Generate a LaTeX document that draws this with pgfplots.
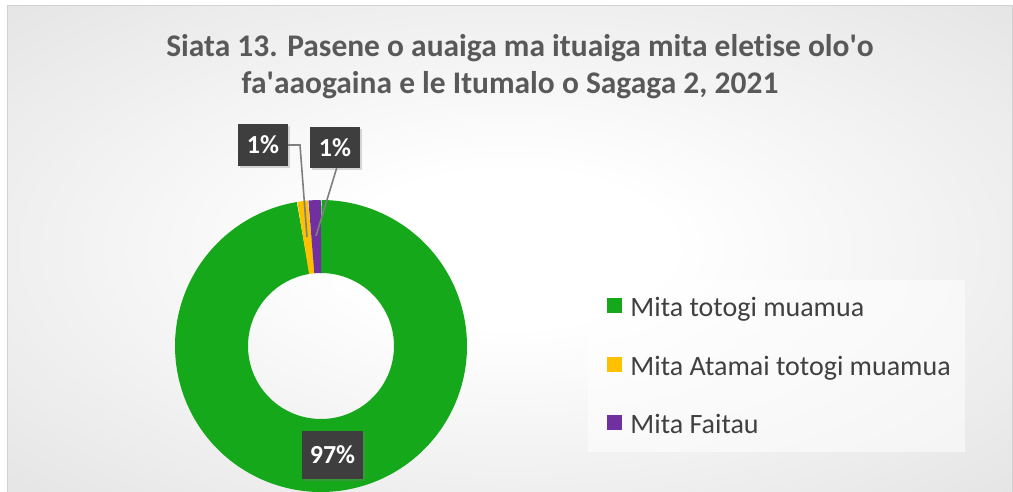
\documentclass[border=0pt]{standalone}
\usepackage{pgfplots}
\pgfplotsset{compat=1.18}
\usepackage{fontspec}
\setmainfont{Carlito}[Ligatures={TeX,NoCommon}]
\usetikzlibrary{shadows}

\definecolor{cGreen}{RGB}{20,168,26}
\definecolor{cYellow}{RGB}{255,192,0}
\definecolor{cPurple}{RGB}{112,48,160}
\definecolor{cTitle}{RGB}{89,89,89}
\definecolor{cText}{RGB}{64,64,64}
\definecolor{cLabel}{RGB}{62,62,62}
\definecolor{cLeader}{RGB}{127,127,127}
\definecolor{cBorder}{RGB}{210,210,210}

\pgfdeclareradialshading{chartbg}{\pgfpoint{0bp}{0bp}}{%
  color(0bp)=(white); color(8bp)=(white); color(70bp)=(white!77!black)}

% shares of the meters (percent)
\pgfmathsetmacro{\vA}{97.4}
\pgfmathsetmacro{\vB}{1.2}
\pgfmathsetmacro{\vC}{1.4}
% angles, clockwise from 12 o'clock
\pgfmathsetmacro{\aO}{90}
\pgfmathsetmacro{\aA}{\aO-3.6*\vA}
\pgfmathsetmacro{\aB}{\aA-3.6*\vB}
\pgfmathsetmacro{\aC}{\aB-3.6*\vC}

\tikzset{lbl/.style={fill=cLabel, text=white, inner sep=0pt,
  font=\fontsize{19.5}{22}\selectfont\bfseries,
  drop shadow={shadow xshift=1.5pt, shadow yshift=-1.5pt, opacity=0.3}}}

\begin{document}
\begin{tikzpicture}
\begin{axis}[
  x=0.75pt, y=0.75pt,
  xmin=0, xmax=1013, ymin=0, ymax=492,
  y dir=reverse,
  hide axis, clip=false,
  legend style={at={(axis cs:607,369)}, anchor=west,
    draw=none, fill=none, inner sep=0pt, row sep=24.9pt,
    font=\fontsize{21}{24}\selectfont, text=cText,
    nodes={inner sep=0pt, text height=14pt, text depth=5pt},
    /tikz/every odd column/.append style={column sep=6.5pt}},
  legend cell align=left,
]
% background and frame
\fill[white] (axis cs:0,0) rectangle (axis cs:1013,492);
\shade[shading=chartbg] (axis cs:7,6) rectangle (axis cs:1013,492);
\draw[cBorder, line width=0.75pt] (axis cs:7,6) -- (axis cs:1012,6) -- (axis cs:1012,492);
\draw[cBorder, line width=0.75pt] (axis cs:7,6) -- (axis cs:7,492);
% legend panel
\fill[white, fill opacity=0.55] (axis cs:588,280) rectangle (axis cs:965,452);

\addlegendimage{legend image code/.code={\fill[cGreen] (0pt,-1.5pt) rectangle (10.5pt,9pt);}}
\addlegendentry{Mita totogi muamua}
\addlegendimage{legend image code/.code={\fill[cYellow] (0pt,-1.5pt) rectangle (10.5pt,9pt);}}
\addlegendentry{Mita Atamai totogi muamua}
\addlegendimage{legend image code/.code={\fill[cPurple] (0pt,-1.5pt) rectangle (10.5pt,9pt);}}
\addlegendentry{Mita Faitau}

% doughnut: ring drawn as a thick arc, centre (321,346), radii 73..146
\addplot[draw=cGreen, line width=54.75pt, domain=\aA:\aO, samples=200, forget plot]
  ({321+109.5*cos(x)}, {346-109.5*sin(x)});
\addplot[draw=cYellow, line width=54.75pt, domain=\aB:\aA, samples=10, forget plot]
  ({321+109.5*cos(x)}, {346-109.5*sin(x)});
\addplot[draw=cPurple, line width=54.75pt, domain=\aC:\aB, samples=10, forget plot]
  ({321+109.5*cos(x)}, {346-109.5*sin(x)});

% leader lines
\draw[cLeader, line width=1.2pt] (axis cs:288,145) -- (axis cs:300,145) -- (axis cs:307,237);
\draw[cLeader, line width=1.2pt] (axis cs:336.7,168) -- (axis cs:316,236);

% data labels
\node[lbl, minimum width=37.5pt, minimum height=31.5pt] at (axis cs:263,145) {1\%};
\node[lbl, minimum width=37.5pt, minimum height=31pt] at (axis cs:335,147.5) {1\%};
\node[lbl, minimum width=46pt, minimum height=36.5pt] at (axis cs:332.5,455) {97\%};

% title
\node[text=cTitle, font=\fontsize{23.6}{28}\selectfont\bfseries, anchor=base]
  at (axis cs:520,57) {Siata 13. Pasene o auaiga ma ituaiga mita eletise olo\textquotesingle o};
\node[text=cTitle, font=\fontsize{23.6}{28}\selectfont\bfseries, anchor=base]
  at (axis cs:510,93.5) {fa\textquotesingle aaogaina e le Itumalo o Sagaga 2, 2021};

\coordinate (bl) at (axis cs:0,492);
\coordinate (tr) at (axis cs:1013,0);
\end{axis}
\pgfresetboundingbox
\useasboundingbox (bl) rectangle (tr);
\end{tikzpicture}
\end{document}
